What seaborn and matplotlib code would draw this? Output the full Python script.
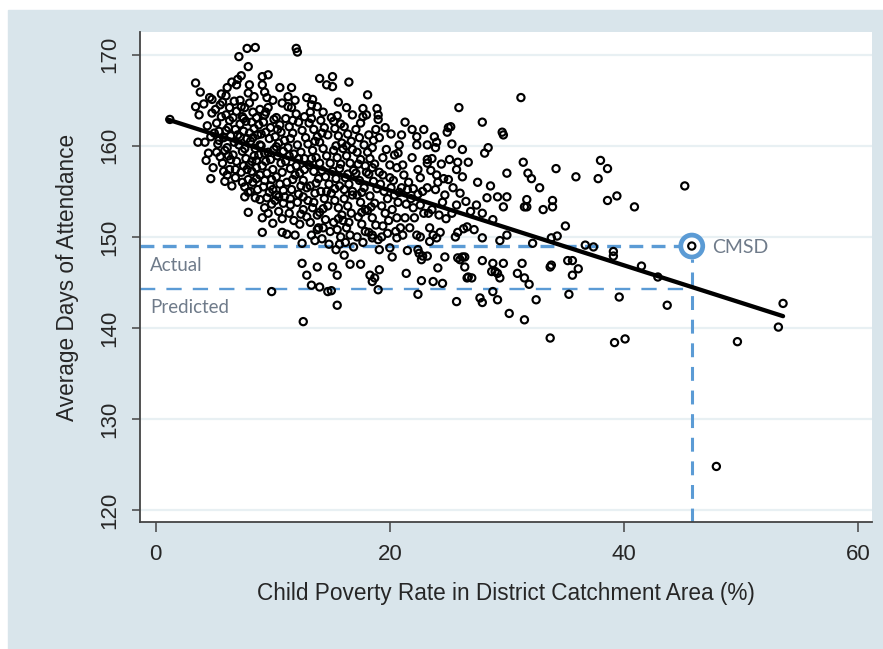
import matplotlib
matplotlib.use("Agg")
import matplotlib.pyplot as plt
import seaborn as sns
import pandas as pd
from matplotlib.patches import Rectangle

# districts: (child poverty %, avg days of attendance)
far_left = [
    (1.2, 162.9), (3.4, 166.9), (3.8, 165.9), (3.4, 164.3), (3.7, 163.4), (3.6, 160.4),
    (4.2, 160.4), (4.1, 164.6), (4.4, 162.2), (4.6, 165.3), (4.7, 161.0), (4.5, 159.2),
    (4.8, 163.6), (4.9, 157.6), (4.3, 158.4), (4.7, 156.4),
]
pov_5_7 = [
    (5.5, 164.5), (5.1, 164.0), (5.7, 164.8), (6.3, 164.2), (6.9, 163.8), (6.6, 163.1),
    (6.0, 163.4), (6.5, 167.0), (6.9, 166.7), (6.1, 166.4), (4.8, 165.1), (5.7, 158.1),
    (6.3, 157.4), (6.1, 156.8), (6.8, 156.5), (5.2, 162.5), (5.4, 161.6), (5.8, 160.9),
    (5.3, 160.2), (5.9, 159.5), (5.5, 158.8), (6.2, 162.0), (6.4, 161.1), (6.7, 160.4),
    (6.1, 159.8), (6.6, 159.0), (6.9, 158.3), (6.3, 162.8), (5.6, 165.7), (6.8, 161.8),
    (5.0, 161.4), (6.5, 155.6), (5.8, 157.2), (6.0, 165.5), (6.7, 164.9), (6.4, 158.5),
    (5.2, 159.3),
]
pov_7_9 = [
    (7.1, 169.8), (7.8, 170.7), (8.5, 170.8), (7.9, 168.7), (7.3, 167.7), (7.0, 167.3),
    (8.0, 166.7), (7.9, 165.8), (7.4, 163.2), (7.6, 164.2), (8.0, 164.7), (8.3, 163.7),
    (8.6, 163.1), (8.9, 164.0), (7.6, 154.4), (7.9, 152.7), (8.5, 154.3), (8.9, 154.1),
    (7.2, 162.4), (7.5, 161.6), (7.8, 160.8), (7.1, 160.1), (7.4, 159.4), (7.7, 158.6),
    (8.0, 157.9), (7.3, 157.1), (7.9, 156.3), (8.2, 162.6), (8.4, 161.9), (8.7, 161.2),
    (8.1, 160.5), (8.5, 159.7), (8.8, 159.0), (8.2, 158.3), (8.6, 157.6), (8.9, 156.8),
    (8.3, 156.0), (8.7, 155.2), (7.6, 155.5), (8.1, 155.0), (7.2, 165.0), (8.4, 165.4),
    (8.8, 162.3), (7.5, 163.0), (7.0, 161.2), (8.0, 161.4), (8.6, 158.4), (7.8, 157.4),
    (7.4, 156.0), (8.9, 160.1),
]
pov_9_11 = [
    (9.1, 167.6), (9.6, 167.8), (9.1, 166.7), (9.3, 165.9), (9.5, 165.3), (10.6, 166.4),
    (10.8, 164.7), (9.3, 163.4), (9.6, 164.2), (10.3, 163.1), (10.6, 162.3), (10.4, 161.8),
    (9.3, 153.2), (9.1, 152.1), (10.0, 151.5), (9.1, 150.5), (10.8, 150.5), (9.5, 154.3),
    (10.3, 154.6), (10.9, 153.7), (9.9, 144.0), (9.2, 162.6), (9.4, 161.5), (9.7, 160.8),
    (9.0, 160.0), (9.3, 159.2), (9.8, 158.5), (9.1, 157.8), (9.5, 157.0), (9.9, 156.3),
    (9.2, 155.5), (9.7, 154.9), (10.1, 162.9), (10.2, 161.0), (10.5, 160.3), (10.1, 159.6),
    (10.4, 158.9), (10.7, 158.1), (10.0, 157.4), (10.3, 156.6), (10.6, 155.8), (10.9, 155.1),
    (10.2, 154.0), (10.5, 152.8), (10.8, 152.0), (9.6, 152.6), (9.8, 155.6), (10.9, 159.4),
    (10.7, 161.5), (9.4, 158.3), (10.0, 165.0),
]
pov_11_13 = [
    (12.0, 170.7), (12.1, 170.3), (11.6, 166.4), (11.3, 165.4), (11.6, 164.2), (12.9, 165.3),
    (11.2, 150.3), (11.5, 153.5), (12.1, 153.8), (12.6, 154.4), (11.9, 150.2), (12.5, 149.3),
    (12.5, 147.1), (12.9, 145.8), (12.6, 140.7), (11.1, 163.0), (11.4, 162.1), (11.7, 161.4),
    (11.0, 160.6), (11.3, 159.8), (11.8, 159.1), (11.1, 158.3), (11.5, 157.5), (11.9, 156.8),
    (11.2, 156.0), (11.6, 155.2), (11.0, 154.4), (11.4, 152.6), (11.8, 151.8), (12.2, 162.6),
    (12.5, 161.7), (12.8, 160.9), (12.1, 160.1), (12.4, 159.3), (12.7, 158.6), (12.0, 157.8),
    (12.3, 157.0), (12.6, 156.2), (12.9, 155.4), (12.2, 154.7), (12.6, 153.0), (12.9, 152.2),
    (12.3, 151.4), (12.0, 163.5), (12.7, 163.2), (11.9, 165.0),
]
pov_13_15 = [
    (13.4, 165.1), (13.3, 164.5), (13.8, 164.3), (14.3, 163.7), (13.2, 163.7), (14.6, 166.7),
    (14.0, 167.4), (13.3, 150.2), (13.8, 150.8), (14.3, 151.0), (13.8, 146.7), (13.3, 144.7),
    (14.0, 144.5), (14.7, 144.0), (13.1, 162.5), (13.5, 161.8), (13.8, 161.0), (13.0, 160.2),
    (13.4, 159.5), (13.7, 158.7), (13.1, 157.9), (13.5, 157.2), (13.9, 156.4), (13.2, 155.6),
    (13.6, 154.8), (13.0, 154.0), (13.4, 153.2), (13.8, 152.4), (13.2, 151.6), (14.1, 162.8),
    (14.4, 162.0), (14.7, 161.2), (14.0, 160.4), (14.3, 159.7), (14.6, 158.9), (14.9, 158.1),
    (14.2, 157.3), (14.5, 156.6), (14.8, 155.8), (14.1, 155.0), (14.4, 154.2), (14.7, 153.4),
    (14.0, 152.7), (14.5, 151.9), (14.9, 150.6), (13.6, 149.6), (14.2, 149.8), (14.8, 149.2),
]
pov_15_17 = [
    (15.1, 167.6), (15.1, 166.5), (16.5, 167.0), (16.8, 163.4), (15.2, 162.7), (15.0, 163.1),
    (16.8, 154.6), (16.1, 148.0), (15.1, 146.7), (15.5, 145.8), (16.6, 147.0), (15.0, 144.1),
    (15.5, 142.5), (16.8, 159.6), (15.3, 161.9), (15.6, 161.1), (15.9, 160.3), (15.2, 159.5),
    (15.5, 158.7), (15.8, 158.0), (15.1, 157.2), (15.4, 156.4), (15.7, 155.6), (15.0, 154.8),
    (15.3, 154.0), (15.6, 153.2), (15.9, 152.4), (15.2, 151.6), (15.5, 150.8), (15.8, 150.0),
    (16.1, 162.1), (16.4, 161.3), (16.7, 160.5), (16.0, 159.7), (16.3, 158.9), (16.6, 158.1),
    (16.9, 157.3), (16.2, 156.5), (16.5, 155.8), (16.8, 155.0), (16.1, 154.2), (16.4, 153.4),
    (16.7, 152.6), (16.0, 151.8), (16.3, 151.0), (16.6, 150.2), (16.2, 149.4), (15.7, 149.2),
    (16.3, 164.2), (15.6, 164.8), (15.4, 148.6), (16.9, 148.9),
]
pov_17_19 = [
    (18.1, 165.6), (17.7, 164.1), (18.0, 163.4), (18.9, 164.1), (17.7, 163.2), (19.0, 163.4),
    (19.0, 162.9), (18.5, 159.8), (18.1, 159.3), (18.5, 157.6), (18.5, 149.9), (19.0, 149.7),
    (18.5, 150.2), (17.5, 147.0), (18.3, 145.8), (18.5, 145.1), (18.7, 145.5), (19.0, 144.2),
    (19.1, 148.6), (19.1, 146.4), (17.1, 161.8), (17.4, 160.9), (17.8, 160.1), (17.2, 159.3),
    (17.5, 158.5), (17.9, 157.8), (17.1, 157.0), (17.4, 156.2), (17.8, 155.4), (17.2, 154.6),
    (17.5, 153.8), (17.9, 153.0), (17.3, 152.2), (17.6, 151.4), (17.9, 150.6), (17.2, 150.0),
    (18.2, 161.2), (18.6, 160.6), (18.3, 158.6), (18.7, 158.0), (18.2, 156.9), (18.6, 156.1),
    (18.9, 155.3), (18.3, 154.5), (18.7, 153.7), (18.1, 152.9), (18.5, 152.1), (18.8, 151.3),
    (18.2, 150.5), (17.7, 149.4), (18.8, 161.8),
]
# extra districts hidden inside the solid black core
core_extra = [
    (5.6, 163.2), (6.0, 161.7), (5.4, 160.6), (6.2, 158.9), (5.9, 156.1), (6.8, 157.4),
    (7.3, 164.3), (7.7, 162.7), (7.2, 161.0), (8.3, 160.9), (7.6, 159.7), (8.4, 158.9),
    (7.5, 157.8), (8.2, 157.2), (8.6, 156.4), (7.9, 154.9), (9.4, 163.7), (9.8, 162.0),
    (9.0, 161.3), (10.3, 159.9), (9.6, 159.3), (10.8, 157.1), (9.3, 156.2), (10.0, 155.2),
    (10.5, 154.4), (9.9, 153.6), (11.3, 164.3), (11.7, 162.8), (11.5, 160.8), (12.2, 158.6),
    (11.4, 158.9), (12.7, 157.4), (11.7, 156.3), (12.4, 155.6), (11.5, 154.2), (12.4, 152.5),
    (13.3, 163.0), (13.6, 160.5), (14.2, 161.4), (13.3, 158.6), (14.0, 158.1), (13.7, 155.9),
    (14.6, 155.0), (13.5, 153.8), (14.3, 153.1), (13.9, 151.0), (15.5, 163.3), (15.8, 162.4),
    (15.4, 160.0), (16.3, 160.0), (15.7, 157.5), (16.4, 156.9), (15.3, 155.3), (16.1, 155.2),
    (15.6, 152.0), (16.5, 151.6), (17.5, 162.5), (17.3, 158.0), (18.0, 157.1), (17.6, 154.9),
    (18.4, 153.3), (17.6, 152.7),
]
pov_19_21 = [
    (19.6, 162.0), (21.0, 161.2), (20.8, 160.1), (20.7, 159.2), (19.1, 160.9), (19.4, 158.7),
    (20.4, 159.0), (20.6, 157.6), (20.0, 157.9), (19.1, 157.1), (19.4, 156.8), (20.0, 156.5),
    (19.3, 150.0), (20.6, 152.1), (20.6, 149.9), (20.9, 151.0), (20.0, 148.8), (20.2, 147.8),
    (21.0, 155.4), (19.2, 155.8), (19.5, 155.0), (19.8, 154.2), (20.1, 155.4), (20.4, 154.6),
    (20.7, 153.8), (19.3, 153.4), (19.6, 152.6), (19.9, 151.8), (20.2, 153.0), (20.5, 150.6),
    (19.4, 151.2), (19.8, 150.4), (20.8, 154.9), (20.3, 156.2), (19.7, 159.6), (20.1, 161.3),
]
pov_21_23 = [
    (21.3, 162.6), (21.9, 161.8), (22.9, 161.8), (22.3, 161.0), (22.3, 160.1), (21.9, 158.7),
    (21.1, 157.9), (22.4, 157.4), (22.6, 156.5), (21.5, 155.2), (22.0, 153.2), (22.6, 153.5),
    (22.1, 152.1), (21.7, 151.0), (21.3, 152.1), (22.3, 150.2), (22.6, 150.0), (21.5, 148.5),
    (22.4, 148.6), (22.5, 148.2), (22.8, 147.9), (22.7, 147.5), (21.4, 146.0), (22.7, 145.2),
    (22.4, 143.7), (21.2, 156.8), (21.6, 156.0), (22.0, 155.3), (22.4, 154.7), (21.8, 154.2),
    (22.8, 155.0), (21.4, 153.6), (22.9, 152.6), (21.1, 150.2),
]
pov_23_25 = [
    (23.2, 158.5), (23.6, 158.6), (23.2, 158.1), (23.8, 161.0), (24.0, 160.4), (23.9, 159.8),
    (23.2, 160.1), (24.0, 156.8), (24.1, 156.0), (23.2, 155.4), (24.7, 154.6), (23.4, 151.0),
    (23.7, 150.2), (24.0, 149.9), (24.3, 150.5), (23.4, 149.5), (23.2, 147.9), (24.7, 147.8),
    (23.7, 145.1), (24.5, 144.9), (24.1, 146.6), (23.5, 157.3), (24.4, 158.0), (23.9, 155.2),
    (24.5, 153.8), (23.6, 153.0), (24.2, 152.4), (24.8, 152.0), (23.3, 152.6), (24.6, 156.4),
    (25.0, 156.3), (24.9, 161.5), (25.0, 162.0),
]
pov_25_27 = [
    (25.2, 162.1), (25.9, 164.2), (25.3, 160.2), (26.2, 159.6), (26.7, 158.2), (25.1, 158.5),
    (25.8, 158.2), (25.7, 157.4), (26.2, 156.6), (25.7, 153.5), (26.6, 151.1), (25.8, 150.5),
    (25.6, 150.0), (25.8, 147.7), (26.2, 147.8), (26.4, 147.8), (26.0, 147.5), (26.4, 146.7),
    (26.6, 145.5), (27.0, 145.5), (26.7, 145.6), (25.7, 142.9), (25.4, 155.4), (26.0, 154.8),
    (26.5, 153.9), (25.3, 152.6), (26.9, 152.8), (26.3, 150.9),
]
pov_27_30 = [
    (27.9, 162.6), (29.6, 161.5), (29.7, 161.2), (28.4, 159.8), (28.1, 159.2), (27.5, 156.0),
    (28.3, 154.3), (29.2, 154.4), (27.9, 152.6), (27.4, 153.5), (28.8, 151.9), (27.9, 149.9),
    (27.9, 147.4), (28.8, 147.1), (29.7, 147.1), (29.0, 146.2), (29.2, 146.0), (29.4, 145.5),
    (28.7, 146.2), (27.7, 143.3), (27.9, 142.8), (29.2, 143.1), (28.8, 144.0), (30.0, 157.0),
    (30.0, 154.4), (29.7, 153.3), (30.0, 150.2), (28.6, 155.6), (27.2, 150.8), (29.4, 149.6),
]
pov_30_up = [
    (31.2, 165.3), (31.4, 158.2), (31.8, 157.0), (32.1, 156.4), (34.2, 157.5), (35.9, 156.6),
    (37.8, 156.4), (38.0, 158.4), (38.6, 157.5), (45.2, 155.6), (32.8, 155.4), (31.7, 154.1),
    (31.7, 153.3), (31.5, 153.3), (33.1, 153.0), (33.9, 154.0), (33.9, 153.3), (38.6, 154.0),
    (39.4, 154.5), (40.9, 153.3), (35.0, 151.2), (34.3, 150.1), (33.8, 149.9), (32.2, 149.3),
    (37.4, 148.9), (36.7, 149.1), (39.1, 148.4), (39.1, 147.9), (31.3, 147.1), (30.9, 146.0),
    (31.5, 145.5), (31.9, 144.8), (33.7, 146.7), (33.8, 146.9), (35.2, 147.4), (35.6, 147.4),
    (36.1, 146.5), (35.6, 145.8), (41.5, 146.8), (42.9, 145.6), (32.5, 143.1), (35.3, 143.7),
    (39.6, 143.4), (43.7, 142.5), (30.2, 141.6), (31.5, 140.9), (53.6, 142.7), (53.2, 140.1),
    (33.7, 138.9), (39.2, 138.4), (40.1, 138.8), (49.7, 138.5), (47.9, 124.8),
]

# CMSD and the fitted line
cmsd_poverty = 45.8
cmsd_actual = 149.0
cmsd_predicted = 144.3
fit_x = [1.0, 53.6]
fit_y = [162.9, 141.3]

x_ticks = [0, 20, 40, 60]
y_ticks = [120, 130, 140, 150, 160, 170]

groups = [far_left, pov_5_7, pov_7_9, pov_9_11, pov_11_13, pov_13_15, pov_15_17,
          pov_17_19, core_extra, pov_19_21, pov_21_23, pov_23_25, pov_25_27, pov_27_30,
          pov_30_up, [(cmsd_poverty, cmsd_actual)]]
df = pd.DataFrame([p for g in groups for p in g], columns=["poverty", "attendance"])

sns.set_theme(style="white")
plt.rcParams['font.family'] = ['Liberation Sans', 'DejaVu Sans']
plt.rcParams['lines.scale_dashes'] = False

blue = "#5b9bd5"
note_grey = "#6f7b8a"

fig = plt.figure(figsize=(8.83, 6.49), dpi=100)
fig.patches.append(Rectangle((8 / 883, 0), 1 - 8 / 883, 1 - 10 / 649,
                             transform=fig.transFigure, color="#d9e5eb", zorder=-10))
ax = fig.add_axes([140 / 883, 1 - 522 / 649, 732 / 883, 490 / 649])
ax.set_facecolor("white")

xmin, xmax = -1.35, 61.2
ymin, ymax = 118.7, 172.5

# dashed guide lines
ax.plot([xmin, cmsd_poverty - 1.1], [cmsd_actual, cmsd_actual], color=blue, lw=2.4,
        dashes=(10, 6), zorder=1)
ax.plot([xmin, cmsd_poverty], [cmsd_predicted, cmsd_predicted], color=blue, lw=1.7,
        dashes=(11, 8), zorder=1)
ax.plot([cmsd_poverty, cmsd_poverty], [ymin, cmsd_actual - 1.4], color=blue, lw=2.2,
        dashes=(10, 7), zorder=1)

sns.scatterplot(data=df, x="poverty", y="attendance", ax=ax, marker="o", s=27,
                facecolor="none", edgecolor="black", linewidth=1.55, legend=False, zorder=3)
sns.lineplot(x=fit_x, y=fit_y, ax=ax, color="black", linewidth=3.1,
             solid_capstyle="round", zorder=4)

ax.scatter([cmsd_poverty], [cmsd_actual], s=250, facecolors="none", edgecolors=blue,
           linewidths=3.4, zorder=5)

ax.text(47.5, 148.25, "CMSD", color=note_grey, fontsize=14, family="Lato", va="baseline")
ax.text(-0.5, 146.25, "Actual", color=note_grey, fontsize=13.5, family="Lato", va="baseline")
ax.text(-0.5, 141.65, "Predicted", color=note_grey, fontsize=13.5, family="Lato", va="baseline")

ax.set_xlim(xmin, xmax)
ax.set_ylim(ymin, ymax)
ax.set_xticks(x_ticks)
ax.set_yticks(y_ticks)
ax.grid(axis="y", color="#e8f0f3", lw=1.6)
ax.grid(axis="x", visible=False)
ax.set_axisbelow(True)

for side in ["top", "right"]:
    ax.spines[side].set_visible(False)
for side in ["left", "bottom"]:
    ax.spines[side].set_color("#444444")
    ax.spines[side].set_linewidth(1.3)

ax.tick_params(axis="x", length=7, width=1.1, color="#444444", pad=9, labelsize=16,
               direction="out", bottom=True)
ax.tick_params(axis="y", length=5.5, width=1.1, color="#444444", pad=9, labelsize=16,
               direction="out", left=True)
for lab in ax.get_yticklabels():
    lab.set_rotation(90)
    lab.set_va("center")

ax.set_xlabel("Child Poverty Rate in District Catchment Area (%)", fontsize=16.3)
ax.set_ylabel("Average Days of Attendance", fontsize=16.3)
ax.xaxis.set_label_coords(0.5, -(582 - 522) / 490)
ax.yaxis.set_label_coords((79 - 140) / 732, 0.5)

fig.savefig("out.png", dpi=100)
